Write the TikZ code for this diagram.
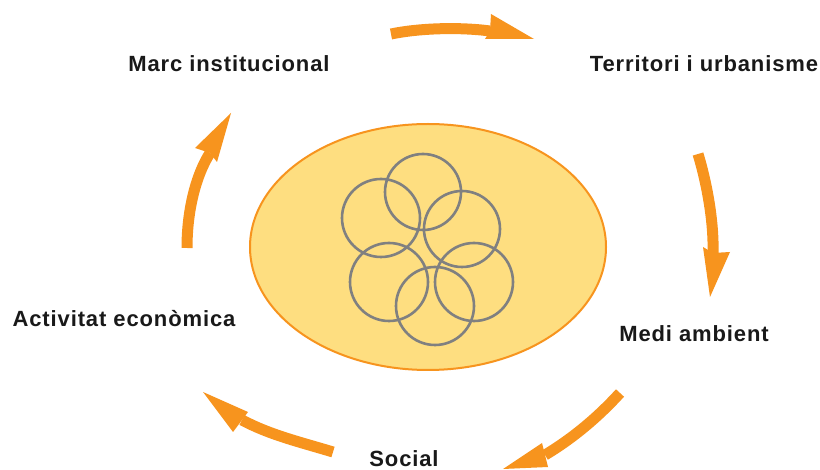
\documentclass[tikz,border=0pt]{standalone}
\usepackage{fontspec}
\setmainfont{Liberation Sans}
\newfontfamily\labelfont[LetterSpace=4]{Liberation Sans}
\definecolor{arroworange}{RGB}{247,148,30}
\definecolor{hubfill}{RGB}{254,222,128}
\definecolor{ringgray}{RGB}{128,128,128}
\begin{document}
\begin{tikzpicture}[x=1pt,y=-1pt,
  label/.style={anchor=base,inner sep=0pt,font=\labelfont\fontsize{22}{26}\selectfont\bfseries,text=black!90},
  shaft/.style={draw=arroworange,line width=11pt,line cap=butt},
  head/.style={fill=arroworange},
  ring/.style={draw=ringgray,line width=2.6pt}]
\useasboundingbox (0,0) rectangle (820,470);
% central ellipse
\filldraw[fill=hubfill,draw=arroworange,line width=2pt] (428,247) ellipse [x radius=178pt,y radius=123pt];
% rings
\draw[ring] (423,192) circle [radius=38pt];
\draw[ring] (381,218) circle [radius=39pt];
\draw[ring] (462,229) circle [radius=38pt];
\draw[ring] (389,282) circle [radius=39pt];
\draw[ring] (474,282) circle [radius=39pt];
\draw[ring] (435,306) circle [radius=39pt];
% labels
\node[label] (marc) at (229,72) {Marc institucional};
\node[label] (terr) at (704,72) {Territori i urbanisme};
\node[label] (medi) at (694,342) {Medi ambient};
\node[label] (soc) at (404,467) {Social};
\node[label] (act) at (124,327) {Activitat econòmica};
% arrow 1 (top)
\coordinate (a1s) at (391,34); \coordinate (a1n) at (490,31);
\coordinate (a1b) at (491,14); \coordinate (a1t) at (534,39); \coordinate (a1c) at (485,39);
\draw[shaft] (a1s) .. controls (420,28) and (460,27) .. (a1n);
\fill[head] (a1n) -- (a1b) -- (a1t) -- (a1c) -- cycle;
% arrow 2 (right)
\coordinate (a2s) at (698,154); \coordinate (a2n) at (713,253);
\coordinate (a2b) at (703,247); \coordinate (a2t) at (710,297); \coordinate (a2c) at (730,252);
\draw[shaft] (a2s) .. controls (706,180) and (714,220) .. (a2n);
\fill[head] (a2n) -- (a2b) -- (a2t) -- (a2c) -- cycle;
% arrow 3 (bottom right)
\coordinate (a3s) at (620,393); \coordinate (a3n) at (545,455);
\coordinate (a3b) at (542,443); \coordinate (a3t) at (503,469); \coordinate (a3c) at (548,467);
\draw[shaft] (a3s) .. controls (600,415) and (575,437) .. (a3n);
\fill[head] (a3n) -- (a3b) -- (a3t) -- (a3c) -- cycle;
% arrow 4 (bottom left)
\coordinate (a4s) at (333,452); \coordinate (a4n) at (242,420);
\coordinate (a4b) at (248,412); \coordinate (a4t) at (203,392); \coordinate (a4c) at (233,432);
\draw[shaft] (a4s) .. controls (300,442) and (270,435) .. (a4n);
\fill[head] (a4n) -- (a4b) -- (a4t) -- (a4c) -- cycle;
% arrow 5 (left)
\coordinate (a5s) at (187,248); \coordinate (a5n) at (210,153);
\coordinate (a5b) at (195,148); \coordinate (a5t) at (231,113); \coordinate (a5c) at (217,162);
\draw[shaft] (a5s) .. controls (187,210) and (196,175) .. (a5n);
\fill[head] (a5n) -- (a5b) -- (a5t) -- (a5c) -- cycle;
\end{tikzpicture}
\end{document}
